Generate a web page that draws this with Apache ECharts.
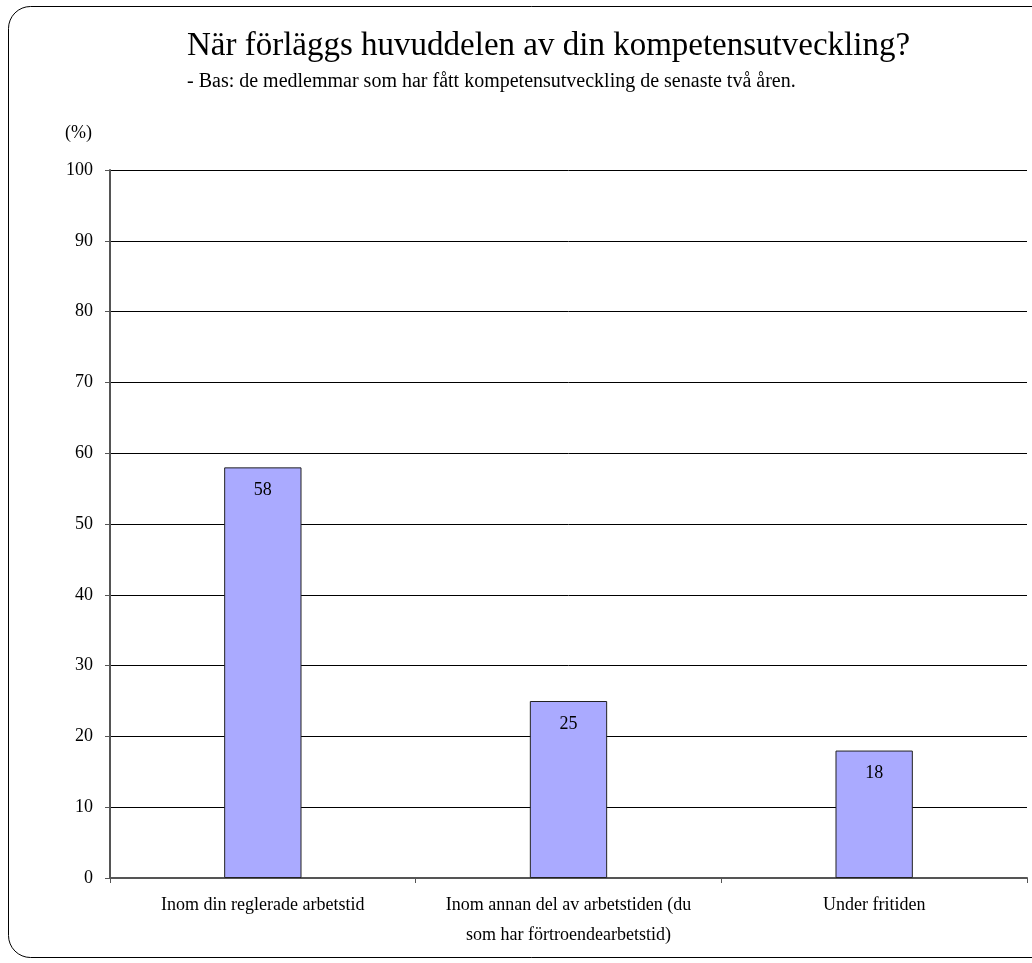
<!DOCTYPE html>
<html>
<head>
<meta charset="utf-8">
<script src="https://cdn.jsdelivr.net/npm/echarts@6/dist/echarts.min.js"></script>
<style>
html, body { margin: 0; padding: 0; background: #fff; }
#main { width: 1032px; height: 963px; }
</style>
</head>
<body>
<div id="main"></div>
<script>
var categories = ['Inom din reglerade arbetstid', 'Inom annan del av arbetstiden (du\nsom har förtroendearbetstid)', 'Under fritiden'];
var values = [58, 25, 18];

var chart = echarts.init(document.getElementById('main'));
var serif = '"Liberation Serif", "DejaVu Serif", serif';

var option = {
    animation: false,
    backgroundColor: '#fff',
    title: {
        text: 'När förläggs huvuddelen av din kompetensutveckling?',
        subtext: '- Bas: de medlemmar som har fått kompetensutveckling de senaste två åren.',
        left: 182,
        top: 25,
        itemGap: 9,
        textStyle: { fontFamily: serif, fontSize: 33, fontWeight: 'normal', color: '#000' },
        subtextStyle: { fontFamily: serif, fontSize: 20, color: '#000' }
    },
    graphic: [{
        type: 'rect',
        shape: { x: 8.5, y: 6.5, width: 1060, height: 951, r: 22 },
        style: { fill: 'none', stroke: '#000', lineWidth: 1 },
        silent: true
    }],
    grid: { left: 110, right: 5, top: 170, bottom: 85 },
    xAxis: {
        type: 'category',
        data: categories,
        axisLine: { lineStyle: { color: '#555', width: 2 } },
        axisTick: { show: true, length: 5, lineStyle: { color: '#555' } },
        axisLabel: { interval: 0, fontFamily: serif, fontSize: 18, color: '#000', margin: 12, lineHeight: 30 }
    },
    yAxis: {
        type: 'value',
        min: 0, max: 100, interval: 10,
        name: '(%)',
        nameLocation: 'end',
        nameGap: 28,
        nameTextStyle: { fontFamily: serif, fontSize: 18, color: '#000', align: 'right', padding: [0, 18, 0, 0] },
        axisLine: { show: true, lineStyle: { color: '#555', width: 2 } },
        axisTick: { show: true, length: 5, lineStyle: { color: '#555' } },
        axisLabel: { fontFamily: serif, fontSize: 18, color: '#000', margin: 17 },
        splitLine: { lineStyle: { color: '#000', width: 1 } }
    },
    series: [{
        type: 'bar',
        data: values,
        barWidth: '25.3%',
        itemStyle: { color: '#AAAAFF', borderColor: '#222', borderWidth: 1 },
        label: {
            show: true,
            position: 'insideTop',
            distance: 14,
            fontFamily: serif, fontSize: 18, color: '#000'
        }
    }]
};
chart.setOption(option);
</script>
</body>
</html>
